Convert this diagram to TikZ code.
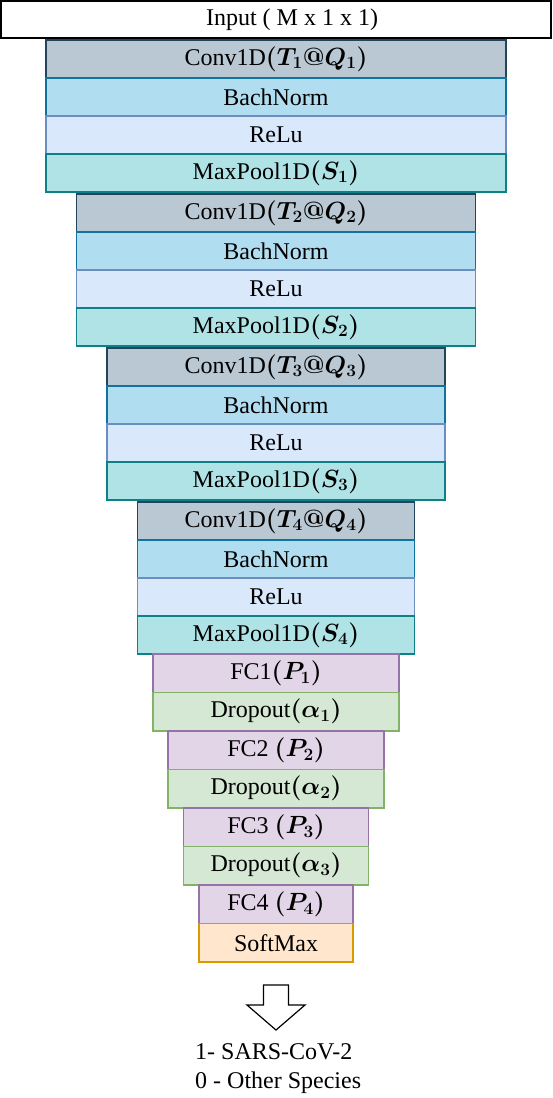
\documentclass[tikz,border=0pt]{standalone}
\usepackage{fontspec}
\setmainfont{Liberation Serif}
\usepackage{bm}
\usetikzlibrary{positioning}

\definecolor{convfill}{HTML}{BAC8D3}\definecolor{convline}{HTML}{23445D}
\definecolor{bnfill}{HTML}{B1DDF0}\definecolor{bnline}{HTML}{10739E}
\definecolor{relufill}{HTML}{DAE8FC}\definecolor{reluline}{HTML}{6C8EBF}
\definecolor{poolfill}{HTML}{B0E3E6}\definecolor{poolline}{HTML}{0E8088}
\definecolor{fcfill}{HTML}{E1D5E7}\definecolor{fcline}{HTML}{9673A6}
\definecolor{dropfill}{HTML}{D5E8D4}\definecolor{dropline}{HTML}{82B366}
\definecolor{softfill}{HTML}{FFE6CC}\definecolor{softline}{HTML}{D79B00}

\begin{document}
\begin{tikzpicture}[node distance=0pt,
	every node/.style={font=\fontsize{24}{29}\selectfont},
	layer/.style={draw, outer sep=0pt, inner sep=0pt, minimum height=38pt, line width=1.2pt},
	conv/.style={layer, fill=convfill, draw=convline},
	bnorm/.style={layer, fill=bnfill, draw=bnline},
	relu/.style={layer, fill=relufill, draw=reluline},
	pool/.style={layer, fill=poolfill, draw=poolline},
	fc/.style={layer, minimum height=38.5pt, fill=fcfill, draw=fcline},
	drop/.style={layer, minimum height=38.5pt, fill=dropfill, draw=dropline},
	soft/.style={layer, minimum height=38.5pt, fill=softfill, draw=softline},
	b1/.style={minimum width=460pt}, b2/.style={minimum width=399pt},
	b3/.style={minimum width=338pt}, b4/.style={minimum width=277pt},
	f1/.style={minimum width=246pt}, f2/.style={minimum width=216pt},
	f3/.style={minimum width=185pt}, f4/.style={minimum width=154pt}]
	\useasboundingbox (0,0) rectangle (552pt,-1098pt);
	\node[layer, draw=black, minimum width=550pt, minimum height=37pt] (inp) at (276pt,-19.5pt) {\hspace*{32pt}Input ( M x 1 x 1)};
	% convolution blocks
	\node[conv, b1, below=2pt of inp] (conv1) {Conv1D$\bm{(T_1@Q_1)}$};
	\node[bnorm, b1, below=of conv1] (bn1) {BachNorm};
	\node[relu, b1, below=of bn1] (relu1) {ReLu};
	\node[pool, b1, below=of relu1] (pool1) {MaxPool1D$\bm{(S_1)}$};
	\node[conv, b2, below=2pt of pool1] (conv2) {Conv1D$\bm{(T_2@Q_2)}$};
	\node[bnorm, b2, below=of conv2] (bn2) {BachNorm};
	\node[relu, b2, below=of bn2] (relu2) {ReLu};
	\node[pool, b2, below=of relu2] (pool2) {MaxPool1D$\bm{(S_2)}$};
	\node[conv, b3, below=2pt of pool2] (conv3) {Conv1D$\bm{(T_3@Q_3)}$};
	\node[bnorm, b3, below=of conv3] (bn3) {BachNorm};
	\node[relu, b3, below=of bn3] (relu3) {ReLu};
	\node[pool, b3, below=of relu3] (pool3) {MaxPool1D$\bm{(S_3)}$};
	\node[conv, b4, below=2pt of pool3] (conv4) {Conv1D$\bm{(T_4@Q_4)}$};
	\node[bnorm, b4, below=of conv4] (bn4) {BachNorm};
	\node[relu, b4, below=of bn4] (relu4) {ReLu};
	\node[pool, b4, below=of relu4] (pool4) {MaxPool1D$\bm{(S_4)}$};
	% dense part
	\node[fc, f1, below=of pool4] (fc1) {FC1$\bm{(P_1)}$};
	\node[drop, f1, below=of fc1] (drop1) {Dropout$\bm{(\alpha_1)}$};
	\node[fc, f2, below=of drop1] (fc2) {FC2 $\bm{(P_2)}$};
	\node[drop, f2, below=of fc2] (drop2) {Dropout$\bm{(\alpha_2)}$};
	\node[fc, f3, below=of drop2] (fc3) {FC3 $\bm{(P_3)}$};
	\node[drop, f3, below=of fc3] (drop3) {Dropout$\bm{(\alpha_3)}$};
	\node[fc, f4, below=of drop3] (fc4) {FC4 $\bm{(P_4)}$};
	\node[soft, f4, below=of fc4] (smax) {SoftMax};
	% output arrow
	\coordinate[below=23pt of smax] (arr);
	\draw[line width=1.2pt, fill=white] ([xshift=-12.5pt]arr) -- ++(0,-20pt) -- ++(-16.5pt,0)
		-- ([yshift=-45pt]arr) -- ++(29pt,25pt) -- ++(-16.5pt,0) -- ([xshift=12.5pt]arr) -- cycle;
	\node[anchor=west, align=left, inner sep=0pt] (out) at ([xshift=-81pt,yshift=-83.5pt]arr) {1- SARS-CoV-2\\0 - Other Species};
\end{tikzpicture}
\end{document}
